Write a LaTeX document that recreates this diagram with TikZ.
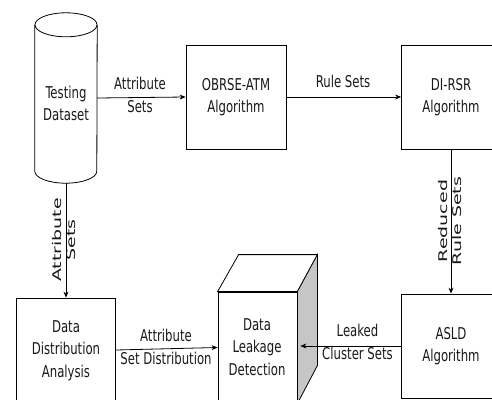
\documentclass[tikz,border=0pt]{standalone}
\usepackage{fontspec}
\usepackage{graphicx}
\setmainfont{DejaVu Sans Condensed}
\newfontfamily\rotfont{DejaVu Sans}
\usetikzlibrary{arrows.meta}
% horizontal labels are set slightly tall, rotated labels slightly long
\newcommand{\htext}[1]{\scalebox{1}[1.25]{\begin{tabular}{@{}c@{}}#1\end{tabular}}}
\newcommand{\vtext}[1]{\scalebox{1.58}[1]{\begin{tabular}{@{}c@{}}#1\end{tabular}}}

\begin{document}
\begin{tikzpicture}[x=1pt,y=-1pt,
  line/.style={draw=black, line width=0.8pt},
  box/.style={line, fill=white, inner sep=0, minimum width=99pt, minimum height=104pt,
    font=\fontsize{13}{18}\selectfont, text=black!90},
  htxt/.style={inner sep=0, font=\fontsize{13}{18}\selectfont, text=black!90},
  vtxt/.style={inner sep=0, rotate=90, font=\rotfont\fontsize{12}{14}\selectfont, text=black!90},
  arr/.style={line, -{Stealth[length=6pt,width=5pt]}},
  side/.style={line, fill=gray!45},
  top/.style={line, fill=white}]
\useasboundingbox (0,0) rectangle (492,399);

% database cylinder
\node (ds) [inner sep=0, minimum width=62pt, minimum height=170pt] at (66,98) {};
\draw[line, fill=white] ([yshift=-12pt]ds.north west) -- ([yshift=12pt]ds.south west)
  arc[start angle=180, end angle=360, x radius=31pt, y radius=12pt]
  -- ([yshift=-12pt]ds.north east);
\draw[line] ([yshift=-12pt]ds.north) ellipse[x radius=31pt, y radius=12pt];
\node (dstext) [htxt] at (66,105) {\htext{Testing\\Dataset}};

% process boxes
\node (obrse) [box, minimum width=100pt] at (236,97) {\htext{OBRSE-ATM\\Algorithm}};
\node (dirsr) [box] at (451,97) {\htext{DI-RSR\\Algorithm}};
\node (asld) [box] at (451,346) {\htext{ASLD\\Algorithm}};
\node (dda) [box] at (66,350) {\htext{Data\\Distribution\\Analysis}};

% detection cube
\node (dld) [box, minimum width=79pt, minimum height=111pt] at (257.5,347.5) {};
\draw[top] (dld.north west) -- ++(21pt,37pt) -- ++(79pt,0pt) -- (dld.north east) -- cycle;
\draw[side] (dld.north east) -- ++(20pt,37pt) -- ++(0pt,-111pt) -- (dld.south east) -- cycle;
\node (dldtext) [htxt] at (257,348) {\htext{Data\\Leakage\\Detection}};

% connectors
\draw[arr] (ds.east) -- (obrse.west);
\node (l1) [htxt] at (140,96.5) {\htext{Attribute\\Sets}};

\draw[arr] (obrse.east) -- (dirsr.west);
\node (l2) [htxt] at (343,83) {\htext{Rule Sets}};

\draw[arr] (ds.south) -- (dda.north);
\node (l3) [vtxt] at (66,240) {\vtext{Attribute\\Sets}};

\draw[arr] (dirsr.south) -- (asld.north);
\node (l4) [vtxt] at (452,221) {\vtext{Reduced\\Rule Sets}};

\draw[arr] (dda.east) -- (dld.west);
\node (l5) [htxt] at (166,348.5) {\htext{Attribute\\Set Distribution}};

\draw[arr] (asld.west) -- ([xshift=3pt]asld.west -| dld.east);
\node (l6) [htxt] at (357.5,343.5) {\htext{Leaked\\Cluster Sets}};
\end{tikzpicture}
\end{document}
